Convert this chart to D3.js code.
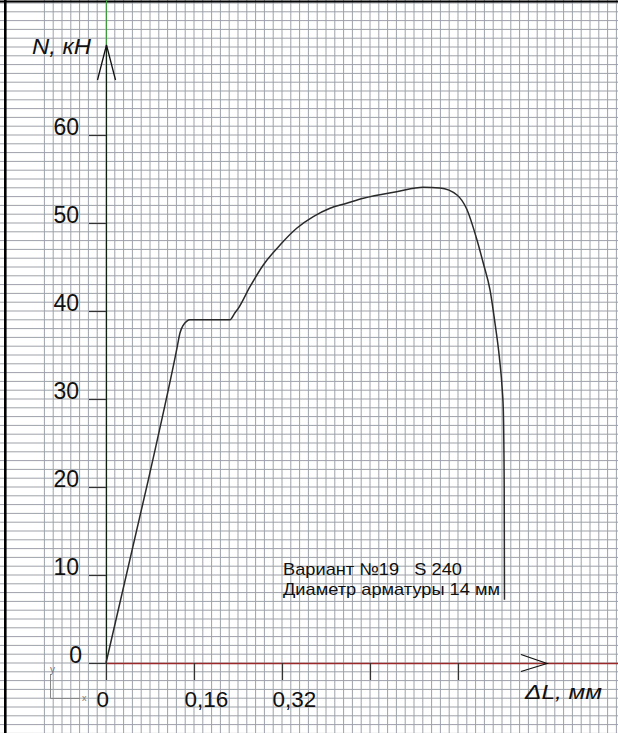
<!DOCTYPE html>
<html><head><meta charset="utf-8">
<script src="https://cdn.jsdelivr.net/npm/d3@7"></script>
<style>html,body{margin:0;padding:0;background:#fff;overflow:hidden}svg{display:block}text{font-family:"Liberation Sans",Arial,sans-serif;fill:#111}</style>
</head><body>
<script>
// ---- data ----
const dL = [0,0.0769,0.1285,0.1345,0.1406,0.1470,0.1527,0.2255,0.2345,0.2405,0.2618,0.2860,0.3164,0.3467,0.3769,0.4073,0.4376,0.4678,0.5285,0.5769,0.6073,0.6382,0.6558,0.6740,0.6860,0.6982,0.7073,0.7151,0.7205,0.7224,0.7240,0.7245];
const N  = [0,20.8,35.6,37.5,38.4,38.85,39.0,39.0,39.8,40.3,42.76,45.23,47.5,49.4,50.72,51.67,52.24,52.81,53.56,54.06,53.98,53.18,51.59,48.18,45.42,42.39,38.6,34.81,31.02,28.75,20,7.2];
const xTicks = [0,0.16,0.32,0.48,0.64];
const xTickLabels = ["0","0,16","0,32","",""];
const yTicks = [0,10,20,30,40,50,60];
const yTickLabels = ["0","10","20","30","40","50","60"];
const xTitle = "ΔL, мм", yTitle = "N, кН";
const note = ["Вариант №19   S 240","Диаметр арматуры 14 мм"];

const W=618,H=733;
const svg=d3.select("body").append("svg").attr("width",W).attr("height",H);
const x=d3.scaleLinear().domain([0,0.16]).range([106,194]);
const y=d3.scaleLinear().domain([0,10]).range([663,575]);

// grid (graph paper): one line per 0.016 mm and per 1 kN
const gx=d3.range(-7,59).map(k=>k*0.016);
const gy=d3.range(-8,76);
const g=svg.append("g").attr("stroke","#9da1a9").attr("stroke-width",1);
g.selectAll("line.v").data(gx).join("line").attr("class","v")
 .attr("x1",d=>x(d)).attr("x2",d=>x(d)).attr("y1",0).attr("y2",H);
g.selectAll("line.h").data(gy).join("line").attr("class","h")
 .attr("y1",d=>y(d)).attr("y2",d=>y(d)).attr("x1",0).attr("x2",W);

// frame
svg.append("line").attr("x1",0).attr("x2",W).attr("y1",1.5).attr("y2",1.5).attr("stroke","#000").attr("stroke-width",2);
svg.append("line").attr("x1",5.3).attr("x2",5.3).attr("y1",0).attr("y2",H).attr("stroke","#000").attr("stroke-width",2.6);

// y axis
const y0=y(0), x0=x(0);
svg.append("line").attr("x1",x0+0.5).attr("x2",x0+0.5).attr("y1",0).attr("y2",45).attr("stroke","#3c9c3c").attr("stroke-width",1);
svg.append("line").attr("x1",x0+0.5).attr("x2",x0+0.5).attr("y1",45).attr("y2",y0).attr("stroke","#102010").attr("stroke-width",1.2);
svg.append("path").attr("d",`M${x0-8.5},80L${x0+0.5},45L${x0+9.5},80`).attr("fill","none").attr("stroke","#111").attr("stroke-width",1.3);
svg.selectAll("line.yt").data(yTicks).join("line").attr("class","yt")
 .attr("x1",x0-17).attr("x2",x0).attr("y1",d=>y(d)+0.5).attr("y2",d=>y(d)+0.5).attr("stroke","#333").attr("stroke-width",1.2);
svg.selectAll("text.yl").data(yTicks).join("text").attr("class","yl")
 .attr("x",d=>d===0?82:79).attr("y",d=>y(d)-0.5).attr("text-anchor","end")
 .attr("font-size",23).text((d,i)=>yTickLabels[i]);

// x axis
svg.append("line").attr("x1",x0).attr("x2",W).attr("y1",y0+0.5).attr("y2",y0+0.5).attr("stroke","#9a2a2a").attr("stroke-width",1.5);
svg.append("path").attr("d",`M521,${y0-8.5}L547,${y0+0.5}L521,${y0+8.5}`).attr("fill","none").attr("stroke","#111").attr("stroke-width",1.2);
svg.selectAll("line.xt").data(xTicks).join("line").attr("class","xt")
 .attr("x1",d=>x(d)+0.5).attr("x2",d=>x(d)+0.5).attr("y1",y0).attr("y2",y0+17).attr("stroke","#333").attr("stroke-width",1.2);
svg.selectAll("text.xl").data(xTicks).join("text").attr("class","xl")
 .attr("x",d=>x(d)-9.5).attr("y",707).attr("font-size",22.5).text((d,i)=>xTickLabels[i]);

// titles
svg.append("text").attr("x",525).attr("y",699).attr("font-size",20).attr("font-style","italic")
 .attr("textLength",77).attr("lengthAdjust","spacingAndGlyphs").text(xTitle);
svg.append("text").attr("x",32).attr("y",54).attr("font-size",22).attr("font-style","italic")
 .attr("textLength",59).attr("lengthAdjust","spacingAndGlyphs").text(yTitle);

// note
svg.append("text").attr("x",283).attr("y",575).attr("font-size",17).style("white-space","pre")
 .attr("textLength",179).attr("lengthAdjust","spacingAndGlyphs").text(note[0]);
svg.append("text").attr("x",283).attr("y",595).attr("font-size",17)
 .attr("textLength",217).attr("lengthAdjust","spacingAndGlyphs").text(note[1]);

// small coordinate icon
const ic=svg.append("g");
ic.append("path").attr("d","M50.5,674V698.5H80").attr("fill","none").attr("stroke","#888").attr("stroke-width",1);
ic.append("text").attr("x",50).attr("y",673).attr("font-size",10).style("fill","#777").text("y");
ic.append("text").attr("x",82).attr("y",701).attr("font-size",9).style("fill","#777").text("x");

// curve
const pts=dL.map((d,i)=>[d,N[i]]);
svg.append("path").datum(pts)
 .attr("d",d3.line().x(d=>x(d[0])).y(d=>y(d[1])).curve(d3.curveMonotoneX))
 .attr("fill","none").attr("stroke","#2a2a2a").attr("stroke-width",1.5);
</script>
</body></html>
